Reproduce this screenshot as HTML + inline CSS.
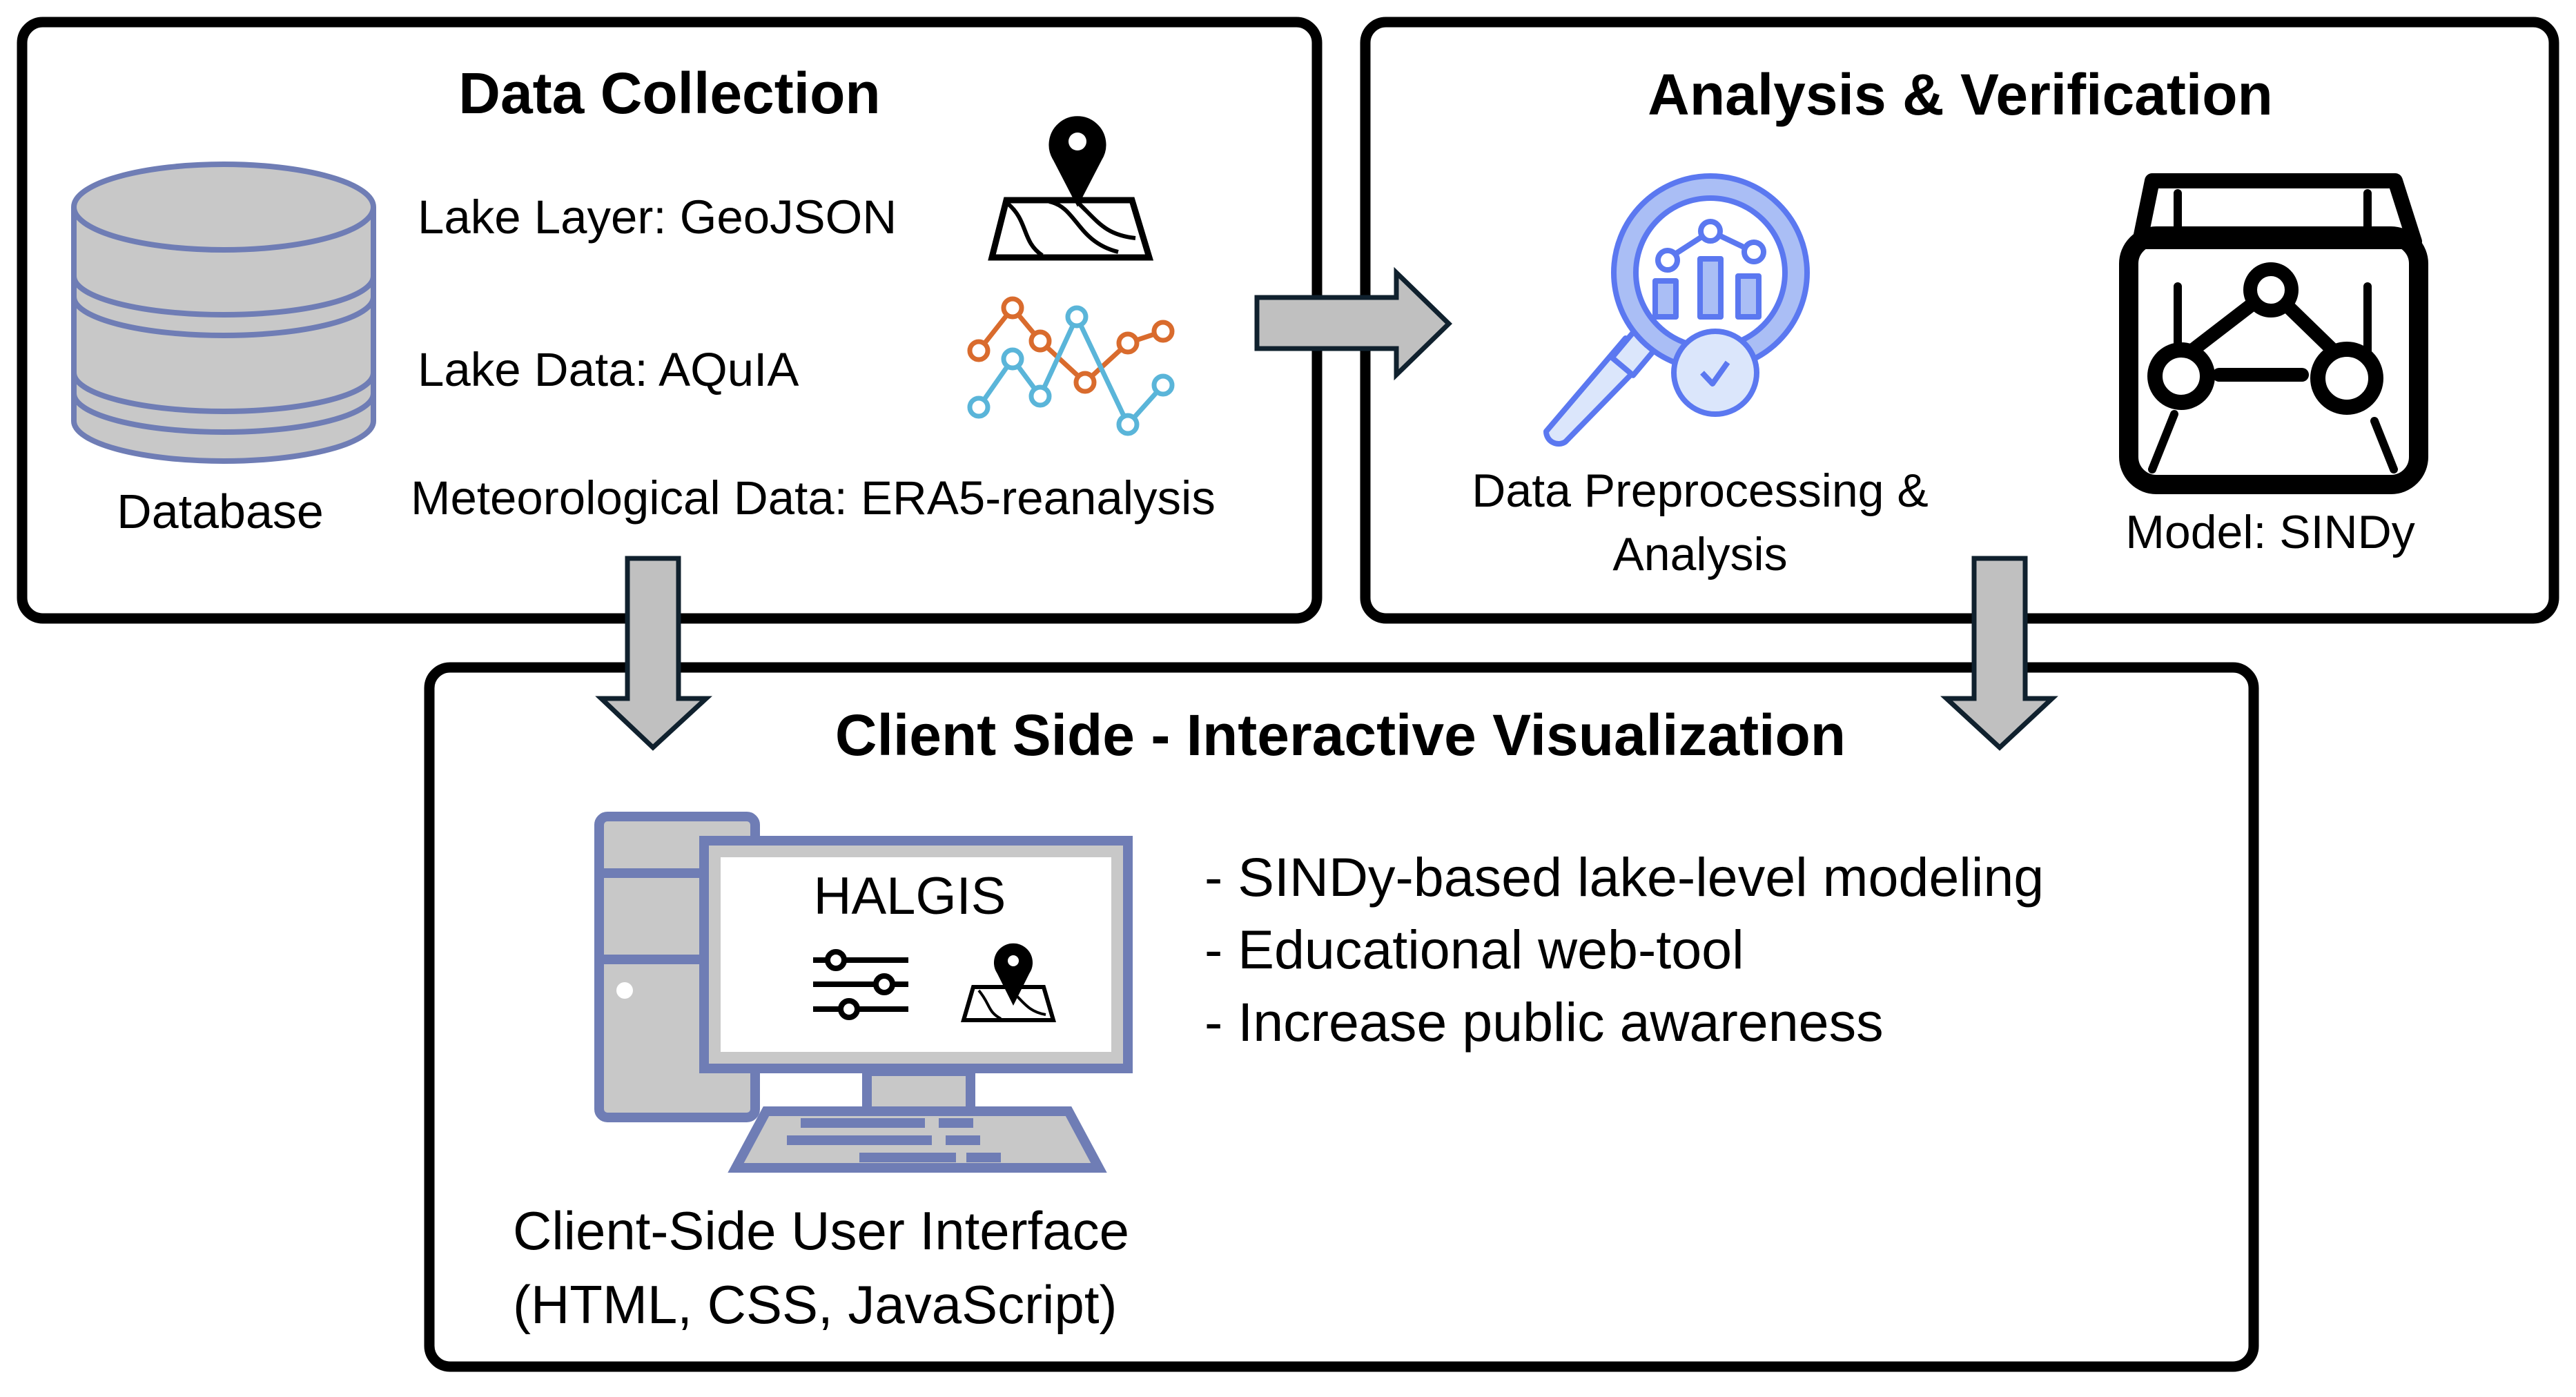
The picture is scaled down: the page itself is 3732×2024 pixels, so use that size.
<!DOCTYPE html>
<html><head><meta charset="utf-8"><style>
html,body{margin:0;padding:0;background:#fff}
svg{display:block}
text{font-family:"Liberation Sans",sans-serif;fill:#000}
</style></head><body>
<svg width="3732" height="2024" viewBox="0 0 3732 2024">
<!-- boxes -->
<rect x="32" y="32" width="1876" height="864" rx="30" fill="#fff" stroke="#000" stroke-width="15"/>
<rect x="1978" y="32" width="1722" height="864" rx="30" fill="#fff" stroke="#000" stroke-width="15"/>
<rect x="622" y="967" width="2643" height="1013" rx="30" fill="#fff" stroke="#000" stroke-width="15"/>

<!-- arrows -->
<polygon points="1821,431 2023,431 2023,395 2099,469 2023,543 2023,505 1821,505" fill="#c0c0c0" stroke="#10212e" stroke-width="7"/>
<polygon points="909,809 983,809 983,1012 1023,1012 946,1083 871,1012 909,1012" fill="#c0c0c0" stroke="#10212e" stroke-width="7"/>
<polygon points="2860,809 2934,809 2934,1012 2973,1012 2897,1083 2820,1012 2860,1012" fill="#c0c0c0" stroke="#10212e" stroke-width="7"/>

<!-- titles -->
<text x="970" y="164" font-size="84" font-weight="bold" text-anchor="middle">Data Collection</text>
<text x="2840" y="166" font-size="84" font-weight="bold" text-anchor="middle">Analysis &amp; Verification</text>
<text x="1942" y="1094" font-size="84" font-weight="bold" text-anchor="middle">Client Side - Interactive Visualization</text>

<!-- database -->
<g fill="#c8c8c8" stroke="#6f7db5" stroke-width="8">
<path d="M107,300 L107,610 A217,58 0 0 0 541,610 L541,300"/>
<ellipse cx="324" cy="300" rx="217" ry="62"/>
<path d="M107,400 A217,56 0 0 0 541,400" fill="none"/>
<path d="M107,430 A217,56 0 0 0 541,430" fill="none"/>
<path d="M107,540 A217,56 0 0 0 541,540" fill="none"/>
<path d="M107,570 A217,56 0 0 0 541,570" fill="none"/>
</g>
<text x="319" y="765" font-size="70" text-anchor="middle">Database</text>

<text x="605" y="338" font-size="69">Lake Layer: GeoJSON</text>
<text x="605" y="559" font-size="69">Lake Data: AQuIA</text>
<text x="595" y="745" font-size="69">Meteorological Data: ERA5-reanalysis</text>

<!-- map icon -->
<g stroke="#000" stroke-width="9" fill="#fff">
<polygon points="1437,373 1665,373 1640,290 1458,290"/>
<path d="M1460,295 C1490,320 1480,350 1510,370 M1520,292 C1560,300 1560,350 1620,365 M1560,292 C1590,320 1600,340 1645,345" fill="none" stroke-width="6"/>
<path d="M1561,290 L1530,230 A37,37 0 1 1 1592,230 Z" fill="#000"/>
<circle cx="1561" cy="205" r="13" fill="#fff" stroke="none"/>
</g>

<!-- line chart icon -->
<g fill="#fff" stroke-width="7">
<polyline points="1418,508 1467,446 1507,494 1572,554 1634,497 1685,480" fill="none" stroke="#d96b2d"/>
<polyline points="1418,590 1467,520 1507,574 1560,459 1634,615 1685,558" fill="none" stroke="#5ab5d9"/>
<g stroke="#d96b2d"><circle cx="1418" cy="508" r="13"/><circle cx="1467" cy="446" r="13"/><circle cx="1507" cy="494" r="13"/><circle cx="1572" cy="554" r="13"/><circle cx="1634" cy="497" r="13"/><circle cx="1685" cy="480" r="13"/></g>
<g stroke="#5ab5d9"><circle cx="1418" cy="590" r="13"/><circle cx="1467" cy="520" r="13"/><circle cx="1507" cy="574" r="13"/><circle cx="1560" cy="459" r="13"/><circle cx="1634" cy="615" r="13"/><circle cx="1685" cy="558" r="13"/></g>
</g>

<!-- magnifier -->
<g stroke="#5b78f0" stroke-width="8" stroke-linejoin="round">
<path d="M2355,490 L2240,625 A18,18 0 0 0 2268,640 L2390,515 Z" fill="#dbe6fb"/>
<rect x="2350" y="478" width="40" height="60" transform="rotate(40 2370 508)" fill="#dbe6fb"/>
<circle cx="2478" cy="395" r="140" fill="#aabef5"/>
<circle cx="2478" cy="395" r="108" fill="#fff"/>
<rect x="2398" y="407" width="30" height="52" fill="#aabef5"/>
<rect x="2463" y="375" width="30" height="84" fill="#aabef5"/>
<rect x="2518" y="400" width="30" height="59" fill="#aabef5"/>
<polyline points="2416,375 2478,335 2541,365" fill="none"/>
<circle cx="2416" cy="377" r="14" fill="#fff"/><circle cx="2478" cy="335" r="14" fill="#fff"/><circle cx="2541" cy="365" r="14" fill="#fff"/>
<circle cx="2485" cy="540" r="60" fill="#dbe6fb"/>
<polyline points="2466,540 2481,556 2503,525" fill="none"/>
</g>
<text x="2463" y="734" font-size="68" text-anchor="middle">Data Preprocessing &amp;</text>
<text x="2463" y="826" font-size="68" text-anchor="middle">Analysis</text>

<!-- SINDy icon -->
<g stroke="#000" fill="none" stroke-linecap="round">
<path d="M3118,262 L3470,262 L3498,350 L3100,350 Z" stroke-width="22" stroke-linejoin="round"/>
<rect x="3084" y="342" width="420" height="360" rx="40" stroke-width="28"/>
<path d="M3155,280 V345 M3430,280 V345 M3155,415 V520 M3430,415 V520 M3150,600 L3118,680 M3440,610 L3468,680" stroke-width="12"/>
<path d="M3160,520 L3290,420 L3398,525 M3215,543 L3335,543" stroke-width="20"/>
<circle cx="3290" cy="420" r="30" stroke-width="20" fill="#fff"/>
<circle cx="3160" cy="545" r="38" stroke-width="22" fill="#fff"/>
<circle cx="3400" cy="548" r="42" stroke-width="22" fill="#fff"/>
</g>
<text x="3289" y="794" font-size="68" text-anchor="middle">Model: SINDy</text>

<!-- computer -->
<g stroke="#6f7db5" stroke-width="14" fill="#c8c8c8">
<rect x="868" y="1183" width="226" height="436" rx="12"/>
<path d="M868,1265 H1094 M868,1390 H1094" fill="none"/>
<rect x="1256" y="1552" width="150" height="58"/>
<polygon points="1110,1610 1548,1610 1592,1692 1066,1692"/>
<rect x="1020" y="1218" width="614" height="330" fill="#c8c8c8"/>
<rect x="1044" y="1242" width="566" height="282" fill="#fff" stroke="none"/>
</g>
<g fill="#6f7db5"><rect x="1160" y="1620" width="180" height="14"/><rect x="1360" y="1620" width="50" height="14"/><rect x="1140" y="1645" width="210" height="14"/><rect x="1370" y="1645" width="50" height="14"/><rect x="1245" y="1670" width="140" height="14"/><rect x="1400" y="1670" width="50" height="14"/></g>
<circle cx="905" cy="1435" r="12" fill="#fff"/>
<text x="1318" y="1324" font-size="76" text-anchor="middle">HALGIS</text>
<g stroke="#000" stroke-width="8" fill="#fff">
<path d="M1178,1391 H1316 M1178,1426 H1316 M1178,1462 H1316" fill="none"/>
<circle cx="1211" cy="1391" r="12"/><circle cx="1281" cy="1426" r="12"/><circle cx="1230" cy="1462" r="12"/>
<polygon points="1396,1478 1526,1478 1512,1430 1410,1430" stroke-width="6"/>
<path d="M1418,1435 C1435,1455 1430,1465 1450,1476 M1460,1432 C1480,1445 1485,1465 1515,1470" fill="none" stroke-width="4"/>
<path d="M1468,1448 L1448,1408 A24,24 0 1 1 1488,1408 Z" fill="#000"/>
<circle cx="1468" cy="1392" r="8" fill="#fff" stroke="none"/>
</g>
<text x="1745" y="1298" font-size="79">- SINDy-based lake-level modeling</text>
<text x="1745" y="1403" font-size="79">- Educational web-tool</text>
<text x="1745" y="1508" font-size="79">- Increase public awareness</text>
<text x="743" y="1810" font-size="78">Client-Side User Interface</text>
<text x="743" y="1917" font-size="78">(HTML, CSS, JavaScript)</text>
</svg>
</body></html>
